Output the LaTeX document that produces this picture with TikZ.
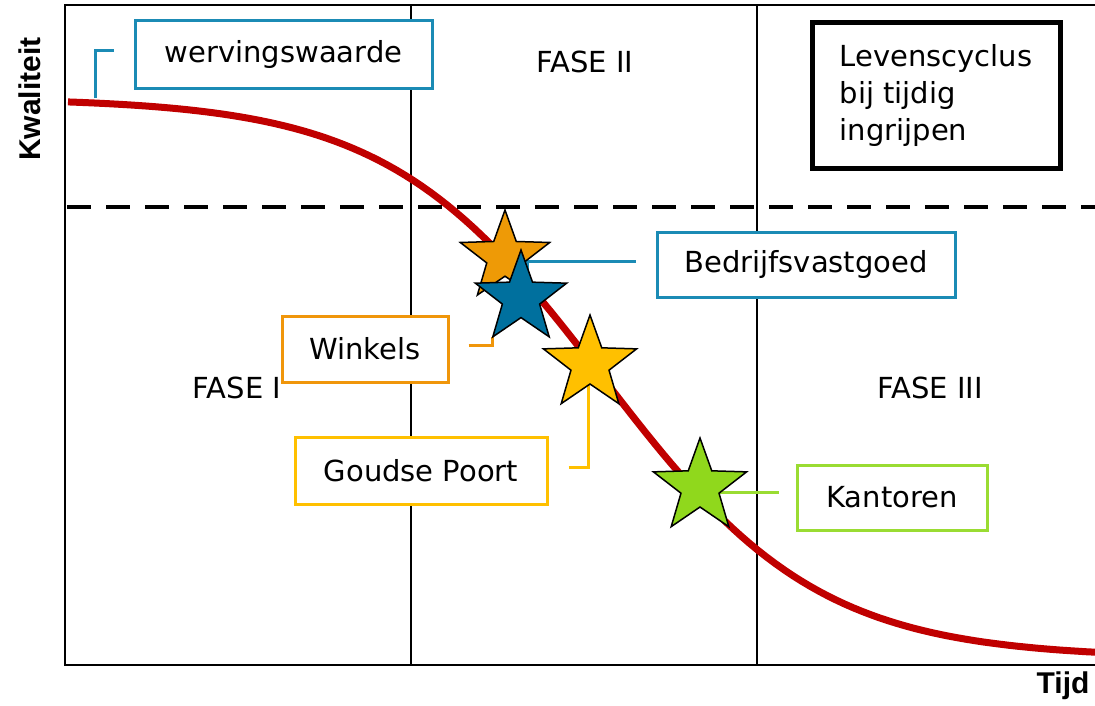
\documentclass[tikz,border=0pt]{standalone}
\usepackage{fontspec}
\setmainfont{DejaVu Sans}
\newfontfamily\axisfont{Liberation Sans}
\usetikzlibrary{shapes.geometric}
\definecolor{curvered}{HTML}{C00000}
\definecolor{boxblue}{HTML}{1B8BB5}
\definecolor{boxorange}{HTML}{F0960A}
\definecolor{boxyellow}{HTML}{FFC000}
\definecolor{boxgreen}{HTML}{9ADC32}
\definecolor{starorange}{HTML}{EE9A06}
\definecolor{starblue}{HTML}{00709E}
\definecolor{staryellow}{HTML}{FFC000}
\definecolor{stargreen}{HTML}{90D81C}
\begin{document}
\begin{tikzpicture}[x=1pt,y=-1pt, font=\fontsize{29}{37}\selectfont,
  lbox/.style={draw, line width=3pt, fill=white, inner sep=0pt, minimum height=66pt},
  conn/.style={line width=3pt},
  starn/.style={star, star points=5, star point ratio=2.45, draw=black, line width=1.5pt, inner sep=0pt},
  frameline/.style={line width=2pt},
  divider/.style={line width=1.5pt},
  phase/.style={inner sep=0pt},
  axislabel/.style={font=\axisfont\bfseries\fontsize{30}{36}\selectfont, inner sep=0pt}]
\useasboundingbox (0,0) rectangle (1095,705);
% frame
\draw[frameline] (1095,5) -- (65,5) -- (65,665) -- (1095,665);
\draw[divider] (411,5) -- (411,665);
\draw[divider] (757,5) -- (757,665);
% phase labels
\node[phase] (f1) at (237,388) {FASE I};
\node[phase] (f2) at (585,62) {FASE II};
\node[phase] (f3) at (930,388) {FASE III};
% curve
\draw[curvered, line width=7pt] plot[domain=68:1095, samples=120] (\x, {98+560/(1+exp(-(\x-603)/108))});
% dashed threshold
\draw[line width=4pt, dash pattern=on 24pt off 15pt] (67,207) -- (1095,207);
% boxes
\node[lbox, draw=boxblue, minimum width=297pt, minimum height=68pt] (werv) at (283.5,54) {wervingswaarde};
\node[lbox, draw=boxblue, minimum width=298pt, minimum height=65pt] (bedr) at (806,264.5) {Bedrijfsvastgoed};
\node[lbox, draw=boxorange, minimum width=166pt] (wink) at (365,349) {Winkels};
\node[lbox, draw=boxyellow, minimum width=252pt, minimum height=67pt] (goud) at (421,470.5) {Goudse Poort};
\node[lbox, draw=boxgreen, minimum width=190pt, minimum height=65pt] (kant) at (892,497.5) {Kantoren};
\node[draw, line width=5pt, fill=white, minimum width=248pt, minimum height=146pt, align=left, inner sep=0pt] (lev) at (936,95) {Levenscyclus\\bij tijdig\\ingrijpen};
% star positions
\coordinate (ostarc) at (505,257);
\coordinate (bstarc) at (521,298);
\coordinate (ystarc) at (590,364);
\coordinate (gstarc) at (700,487);
\coordinate (wc) at (95,98);
% connectors
\draw[conn, boxblue] (wc) |- ([xshift=-20pt, yshift=4pt]werv.west);
\draw[conn, boxblue] ([xshift=-20pt, yshift=3pt]bedr.west) -| ([xshift=6pt]bstarc);
\draw[conn, boxorange] ([xshift=19pt, yshift=4pt]wink.east) -| ([xshift=-29pt, yshift=-39pt]bstarc);
\draw[conn, boxyellow] ([xshift=20pt, yshift=3.5pt]goud.east) -| ([xshift=-2pt]ystarc);
\draw[conn, boxgreen] ([xshift=-17pt, yshift=5pt]kant.west) -| (gstarc);
% stars
\node[starn, fill=starorange, minimum size=94pt] (ostar) at (ostarc) {};
\node[starn, fill=starblue, minimum size=96pt] (bstar) at (bstarc) {};
\node[starn, fill=staryellow, minimum size=98pt] (ystar) at (ystarc) {};
\node[starn, fill=stargreen, minimum size=98pt] (gstar) at (gstarc) {};
% boxes on top of stars
\node[lbox, draw=boxblue, minimum width=297pt, minimum height=68pt] at (werv) {wervingswaarde};
\node[lbox, draw=boxblue, minimum width=298pt, minimum height=65pt] at (bedr) {Bedrijfsvastgoed};
% axis labels
\node[rotate=90, axislabel] (kw) at (30,99) {Kwaliteit};
\node[axislabel] (tijd) at (1063,686) {Tijd};
\end{tikzpicture}
\end{document}
